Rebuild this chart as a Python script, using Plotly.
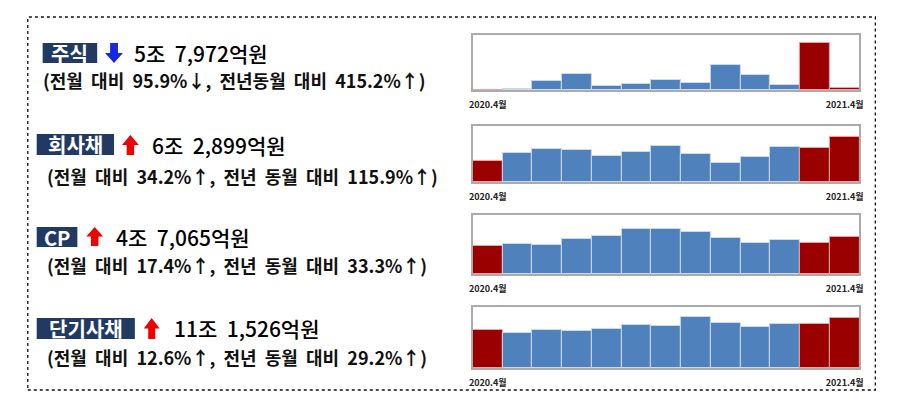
import plotly.graph_objects as go

W, H = 919, 404

# ---------------- data ----------------
months = ["2020.4", "2020.5", "2020.6", "2020.7", "2020.8", "2020.9", "2020.10",
          "2020.11", "2020.12", "2021.1", "2021.2", "2021.3", "2021.4"]
tick_first = "2020.4월"
tick_last = "2021.4월"

labels = ["주식", "회사채", "CP", "단기사채"]
amounts = ["5조\u00a0\u00a07,972억원", "6조\u00a0\u00a02,899억원", "4조\u00a0\u00a07,065억원", "11조\u00a0\u00a01,526억원"]
S = "\u00a0 "
subtitles = [f"(전월{S}대비{S}95.9%↓,{S}전년동월{S}대비{S}415.2%↑)",
             f"(전월{S}대비{S}34.2%↑,{S}전년{S}동월{S}대비{S}115.9%↑)",
             f"(전월{S}대비{S}17.4%↑,{S}전년{S}동월{S}대비{S}33.3%↑)",
             f"(전월{S}대비{S}12.6%↑,{S}전년{S}동월{S}대비{S}29.2%↑)"]
directions = ["down", "up", "up", "up"]

stock_vals = [1.1, 3.1, 27.5, 48.8, 11.2, 18.3, 29.5, 20.3, 76.3, 45.8, 14.2, 141.4, 5.8]
corp_vals = [2.91, 3.99, 4.64, 4.50, 3.67, 4.18, 4.96, 3.86, 2.66, 3.40, 4.91, 4.69, 6.29]
cp_vals = [3.53, 3.78, 3.69, 4.50, 4.88, 5.81, 5.81, 5.39, 4.58, 3.95, 4.37, 4.01, 4.71]
stb_vals = [8.63, 7.84, 8.51, 8.36, 8.81, 9.72, 9.49, 11.53, 10.17, 9.12, 9.87, 9.90, 11.15]
series = [stock_vals, corp_vals, cp_vals, stb_vals]
highlight = [0, 11, 12]  # months drawn in red

# ---------------- style / layout ----------------
def X(px):
    return px / W

def Y(py):
    return 1 - py / H

BLUE, RED = "#4F81BD", "#9A0000"
NAVY = "#213A63"
FONT = "Noto Sans CJK KR"

chart_x = (473, 863)
chart_y = [(35, 90), (126, 182), (215, 274), (307, 368)]
y_tops = [166.8, 7.76, 7.55, 13.71]

label_box = [(39, 94, 43, 63), (33, 111, 134, 155), (33, 74, 227, 247), (33, 132, 318, 339)]
arrow_box = [(102, 120, 43, 63), (119, 136, 135, 155), (83, 100, 227, 246), (141, 157, 318, 339)]
amount_pos = [(129, 53), (147, 145), (111, 237), (169, 328)]
sub_pos = [(37, 80), (41, 176), (41, 265), (41, 357)]

fig = go.Figure()
shapes = []
annotations = []

for i, vals in enumerate(series):
    colors = [RED if k in highlight else BLUE for k in range(len(vals))]
    lcolors = ["#F2A0A0" if k in highlight else "#C9D9EE" for k in range(len(vals))]
    ax = "" if i == 0 else str(i + 1)
    fig.add_trace(go.Bar(x=months, y=vals, marker=dict(color=colors, line=dict(color=lcolors, width=1)),
                         xaxis="x" + ax, yaxis="y" + ax, showlegend=False, hoverinfo="skip"))
    y0, y1 = chart_y[i]
    fig.layout["xaxis" + ax] = dict(domain=[X(chart_x[0]), X(chart_x[1])], anchor="y" + ax,
                                    type="category", tickvals=[months[0], months[-1]],
                                    ticktext=["<b>" + tick_first + "</b>", "<b>" + tick_last + "</b>"],
                                    tickfont=dict(size=9, color="#222", family=FONT),
                                    showline=True, mirror=True, linecolor="#ABABAB", linewidth=1.5,
                                    showgrid=False, ticks="", ticklabelstandoff=5, fixedrange=True)
    fig.layout["yaxis" + ax] = dict(domain=[Y(y1), Y(y0)], anchor="x" + ax, range=[0, y_tops[i]],
                                    showline=True, mirror=True, linecolor="#ABABAB", linewidth=1.5,
                                    showgrid=False, zeroline=False, showticklabels=False, ticks="",
                                    fixedrange=True)

    # label box
    bx0, bx1, by0, by1 = label_box[i]
    shapes.append(dict(type="rect", xref="paper", yref="paper", x0=X(bx0), x1=X(bx1), y0=Y(by1), y1=Y(by0),
                       fillcolor=NAVY, line=dict(width=0), layer="below"))
    annotations.append(dict(xref="paper", yref="paper", x=X((bx0 + bx1) / 2), y=Y((by0 + by1) / 2),
                            text="<b>" + labels[i] + "</b>", showarrow=False, xanchor="center", yanchor="middle",
                            font=dict(size=20, color="white", family=FONT)))
    # arrow
    ax0, ax1, ay0, ay1 = arrow_box[i]
    cx = (ax0 + ax1) / 2
    sw = (ax1 - ax0) * 0.44
    hh = (ay1 - ay0) * 0.5
    if directions[i] == "up":
        ym = ay0 + hh
        pts = [(cx - sw / 2, ay1), (cx - sw / 2, ym), (ax0, ym), (cx, ay0), (ax1, ym), (cx + sw / 2, ym), (cx + sw / 2, ay1)]
        col = "#F00000"
    else:
        ym = ay1 - hh
        pts = [(cx - sw / 2, ay0), (cx - sw / 2, ym), (ax0, ym), (cx, ay1), (ax1, ym), (cx + sw / 2, ym), (cx + sw / 2, ay0)]
        col = "#1428E6"
    path = "M " + " L ".join(f"{X(px):.5f},{Y(py):.5f}" for px, py in pts) + " Z"
    shapes.append(dict(type="path", xref="paper", yref="paper", path=path, fillcolor=col, line=dict(width=0)))
    # amount
    axp, ayp = amount_pos[i]
    annotations.append(dict(xref="paper", yref="paper", x=X(axp), y=Y(ayp), text=amounts[i], showarrow=False,
                            xanchor="left", yanchor="middle",
                            font=dict(size=21, color="#000", family=FONT, weight=500)))
    sxp, syp = sub_pos[i]
    annotations.append(dict(xref="paper", yref="paper", x=X(sxp), y=Y(syp), text="<b>" + subtitles[i] + "</b>",
                            showarrow=False, xanchor="left", yanchor="middle",
                            font=dict(size=18, color="#111", family=FONT)))

# outer dotted frame
shapes.append(dict(type="rect", xref="paper", yref="paper", x0=X(24), x1=X(879), y0=Y(390), y1=Y(17),
                   line=dict(color="#111", width=1.3, dash="dot"), fillcolor="rgba(0,0,0,0)"))

fig.update_layout(width=W, height=H, margin=dict(l=0, r=0, t=0, b=0), bargap=0,
                  paper_bgcolor="white", plot_bgcolor="white", shapes=shapes, annotations=annotations,
                  font=dict(family=FONT))
fig.write_html("out.html", config={"displayModeBar": False},
               post_script="document.body.style.margin='0';document.body.style.overflow='hidden';")
